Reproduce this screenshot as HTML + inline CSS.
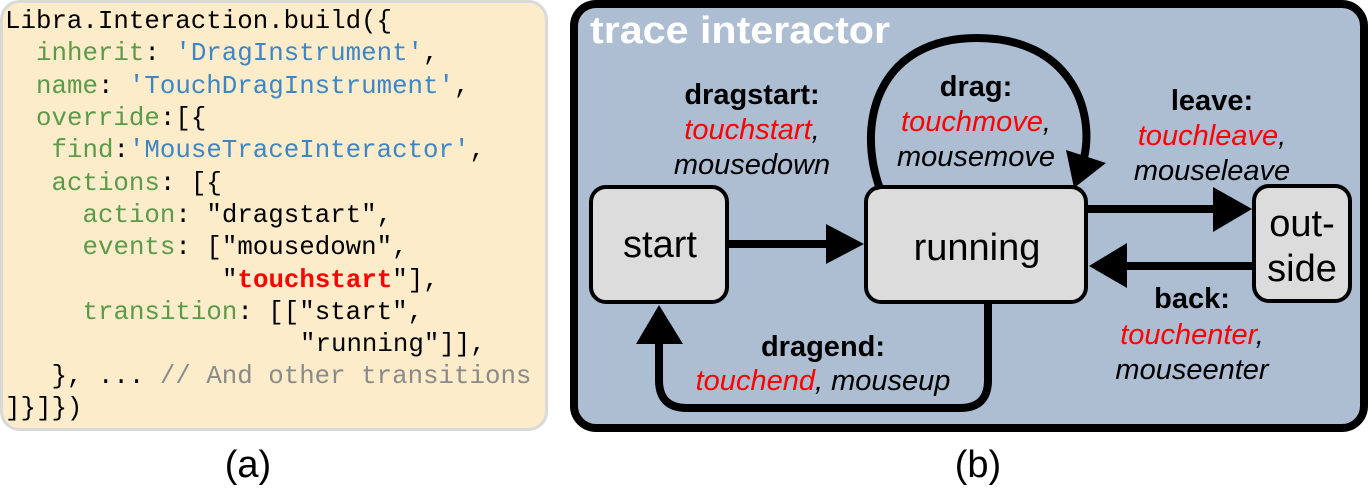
<!DOCTYPE html>
<html><head><meta charset="utf-8"><style>
html,body{margin:0;padding:0;background:#fff;width:1372px;height:496px;overflow:hidden}
svg{display:block}
.code{font-family:"Liberation Mono",monospace;font-size:25.8px}
.g{fill:#5b9a4a}.b{fill:#3d85c6}.k{fill:#000}.c{fill:#8a8a8a}
.lab{font-family:"Liberation Sans",sans-serif;font-size:29px;text-anchor:middle}
.node{font-family:"Liberation Sans",sans-serif;font-size:38px;text-anchor:middle}
.bo{font-weight:bold}.it{font-style:italic}.red{fill:#ff0000}
</style></head><body>
<svg width="1372" height="496" viewBox="0 0 1372 496" xmlns="http://www.w3.org/2000/svg">
<rect x="1.5" y="1.5" width="545" height="428" rx="18" fill="#fdecc9" stroke="#d9d9d9" stroke-width="3"/>
<g class="code">
<text x="5" y="28" class="k">Libra.Interaction.build({</text>
<text x="36" y="60"><tspan class="g">inherit</tspan><tspan class="k">:&#160;</tspan><tspan class="b">'DragInstrument'</tspan><tspan class="k">,</tspan></text>
<text x="36" y="93"><tspan class="g">name</tspan><tspan class="k">:&#160;</tspan><tspan class="b">'TouchDragInstrument'</tspan><tspan class="k">,</tspan></text>
<text x="36" y="125"><tspan class="g">override</tspan><tspan class="k">:[{</tspan></text>
<text x="51.5" y="157"><tspan class="g">find</tspan><tspan class="k">:</tspan><tspan class="b">'MouseTraceInteractor'</tspan><tspan class="k">,</tspan></text>
<text x="51.5" y="190"><tspan class="g">actions</tspan><tspan class="k">:&#160;[{</tspan></text>
<text x="82.5" y="222"><tspan class="g">action</tspan><tspan class="k">:&#160;"dragstart",</tspan></text>
<text x="82.5" y="254"><tspan class="g">events</tspan><tspan class="k">:&#160;["mousedown",</tspan></text>
<text x="222" y="287"><tspan class="k">"</tspan><tspan style="fill:#ff0000;font-weight:bold">touchstart</tspan><tspan class="k">"],</tspan></text>
<text x="82.5" y="319"><tspan class="g">transition</tspan><tspan class="k">:&#160;[["start",</tspan></text>
<text x="300" y="351" class="k">"running"]],</text>
<text x="51.5" y="383"><tspan class="k">},&#160;...&#160;</tspan><tspan class="c">//&#160;And&#160;other&#160;transitions</tspan></text>
<text x="5" y="415" class="k">]}]})</text>
</g>
<text x="248" y="477" font-family="Liberation Sans,sans-serif" font-size="38" text-anchor="middle">(a)</text>
<text x="978" y="477" font-family="Liberation Sans,sans-serif" font-size="38" text-anchor="middle">(b)</text>

<rect x="574" y="4" width="790" height="424" rx="22" fill="#adbdd2" stroke="#000" stroke-width="8"/>
<text x="590" y="43" font-family="Liberation Sans,sans-serif" font-weight="bold" font-size="38" fill="#fff" textLength="300" lengthAdjust="spacingAndGlyphs">trace interactor</text>

<rect x="591" y="187" width="136" height="115" rx="15" fill="#dcdcdc" stroke="#000" stroke-width="4"/>
<rect x="866" y="187" width="220" height="115" rx="15" fill="#dcdcdc" stroke="#000" stroke-width="4"/>
<rect x="1254" y="186" width="96" height="115" rx="15" fill="#dcdcdc" stroke="#000" stroke-width="4"/>
<text x="660" y="257" class="node">start</text>
<text x="977" y="260" class="node">running</text>
<text x="1302" y="236" class="node">out-</text>
<text x="1302" y="281" class="node">side</text>

<line x1="727" y1="244" x2="828" y2="244" stroke="#000" stroke-width="8"/>
<polygon points="826,224 864,244 826,264" fill="#000"/>
<line x1="1086" y1="209" x2="1216" y2="209" stroke="#000" stroke-width="8"/>
<polygon points="1213,187 1252,209 1213,232" fill="#000"/>
<line x1="1254" y1="266" x2="1124" y2="266" stroke="#000" stroke-width="8"/>
<polygon points="1127,243 1089,266 1127,288" fill="#000"/>
<path d="M988,303 L988,380 Q988,408 960,408 L687,408 Q659,408 659,380 L659,340" fill="none" stroke="#000" stroke-width="8"/>
<polygon points="636,344 659,305 683,344" fill="#000"/>
<path d="M880,189 C855,120 880,38 977,38 C1070,38 1095,110 1084,158" fill="none" stroke="#000" stroke-width="8"/>
<polygon points="1066,150 1106,163 1074,188" fill="#000"/>

<text x="752" y="104" class="lab bo">dragstart:</text>
<text x="752" y="139" class="lab it"><tspan class="red">touchstart</tspan>,</text>
<text x="752" y="174" class="lab it">mousedown</text>
<text x="976" y="96" class="lab bo">drag:</text>
<text x="976" y="131" class="lab it"><tspan class="red">touchmove</tspan>,</text>
<text x="976" y="166" class="lab it">mousemove</text>
<text x="1212" y="110" class="lab bo">leave:</text>
<text x="1212" y="145" class="lab it"><tspan class="red">touchleave</tspan>,</text>
<text x="1212" y="180" class="lab it">mouseleave</text>
<text x="1192" y="308" class="lab bo">back:</text>
<text x="1192" y="344" class="lab it"><tspan class="red">touchenter</tspan>,</text>
<text x="1192" y="379" class="lab it">mouseenter</text>
<text x="823" y="356" class="lab bo">dragend:</text>
<text x="823" y="390" class="lab it"><tspan class="red">touchend</tspan>, mouseup</text>
</svg>
</body></html>
